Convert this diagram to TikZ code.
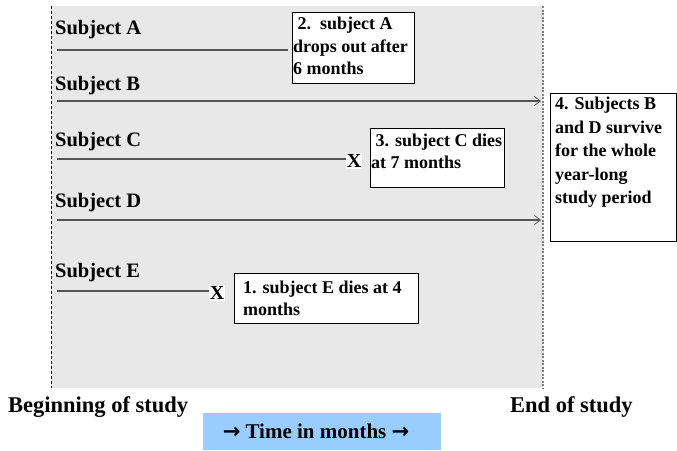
\documentclass[tikz,border=0pt]{standalone}
\usepackage{fontspec}
\setmainfont{Liberation Serif}
\newfontfamily\arrowfont{DejaVu Sans}
\usetikzlibrary{arrows.meta}
\definecolor{bggray}{HTML}{E8E8E8}
\definecolor{linegray}{HTML}{555555}
\definecolor{timeblue}{HTML}{99CCFF}
\tikzset{
  subj/.style={anchor=base west, inner sep=0pt, font=\fontsize{20.5}{22}\selectfont\bfseries},
  boxtxt/.style={anchor=north west, inner sep=0pt, align=left, font=\fontsize{18}{23}\selectfont\bfseries},
  notebox/.style={draw=black, line width=0.8pt, fill=white},
  life/.style={draw=linegray, line width=1.1pt},
  lifearrow/.style={life, -{Straight Barb[length=6pt,width=9pt,line width=0.8pt]}},
  xmark/.style={fill=white, inner sep=1pt, font=\fontsize{20}{20}\selectfont\bfseries},
  endlbl/.style={anchor=base west, inner sep=0pt, font=\fontsize{22.5}{24}\selectfont\bfseries}
}
\begin{document}
\begin{tikzpicture}[x=1pt,y=-1pt]
\useasboundingbox (0,0) rectangle (677,450);
% background panel
\fill[bggray] (51,6) rectangle (543,388);
\draw[black, dash pattern=on 3pt off 2pt, line width=0.7pt] (51,6) -- (51,388);
\draw[gray, dash pattern=on 2pt off 1.5pt, line width=1.2pt] (543,6) -- (543,388);

% subject labels
\node[subj] (la) at (55,34) {Subject A};
\node[subj] (lb) at (55,90) {Subject B};
\node[subj] (lc) at (55,146) {Subject C};
\node[subj] (ld) at (55,207) {Subject D};
\node[subj] (le) at (55,277) {Subject E};

% lifelines
\coordinate (a0) at (57,50);  \coordinate (a1) at (288,50);
\coordinate (b0) at (57,101); \coordinate (b1) at (541,101);
\coordinate (c0) at (57,159);
\coordinate (d0) at (57,220); \coordinate (d1) at (541,220);
\coordinate (e0) at (57,291);

\node[xmark] (xc) at (354,161) {X};
\node[xmark] (xe) at (217,293) {X};

\draw[life] (a0) -- (a1);
\draw[lifearrow] (b0) -- (b1);
\draw[life] (c0) -- (xc.west |- c0);
\draw[lifearrow] (d0) -- (d1);
\draw[life] (e0) -- (xe.west |- e0);

% note boxes
\draw[notebox] (292,12) rectangle (414,83);
\node[boxtxt, font=\fontsize{18}{22.5}\selectfont\bfseries] (n2) at (293,17) {\ 2.\ \ subject A\\drops out after\\6 months};

\draw[notebox] (370,128) rectangle (504,187);
\node[boxtxt, font=\fontsize{18}{22}\selectfont\bfseries] (n3) at (371,134) {\ 3. subject C dies\\at 7 months};

\draw[notebox] (550,93) rectangle (676.5,241);
\node[boxtxt, font=\fontsize{18}{23.5}\selectfont\bfseries] (n4) at (555,97) {4. Subjects B\\and D survive\\for the whole\\year-long\\study period};

\draw[notebox] (234,273) rectangle (418,323);
\node[boxtxt, font=\fontsize{18}{21.5}\selectfont\bfseries] (n1) at (243,281) {1. subject E dies at 4\\months};

% bottom labels
\node[endlbl] (beg) at (8,412) {Beginning of study};
\node[endlbl] (endl) at (510,412) {End of study};

\fill[timeblue] (203,413) rectangle (441,450);
\node[inner sep=0pt, font=\fontsize{21}{22}\selectfont\bfseries] (time) at (316,431) {{\arrowfont →} Time in months {\arrowfont →}};
\end{tikzpicture}
\end{document}
